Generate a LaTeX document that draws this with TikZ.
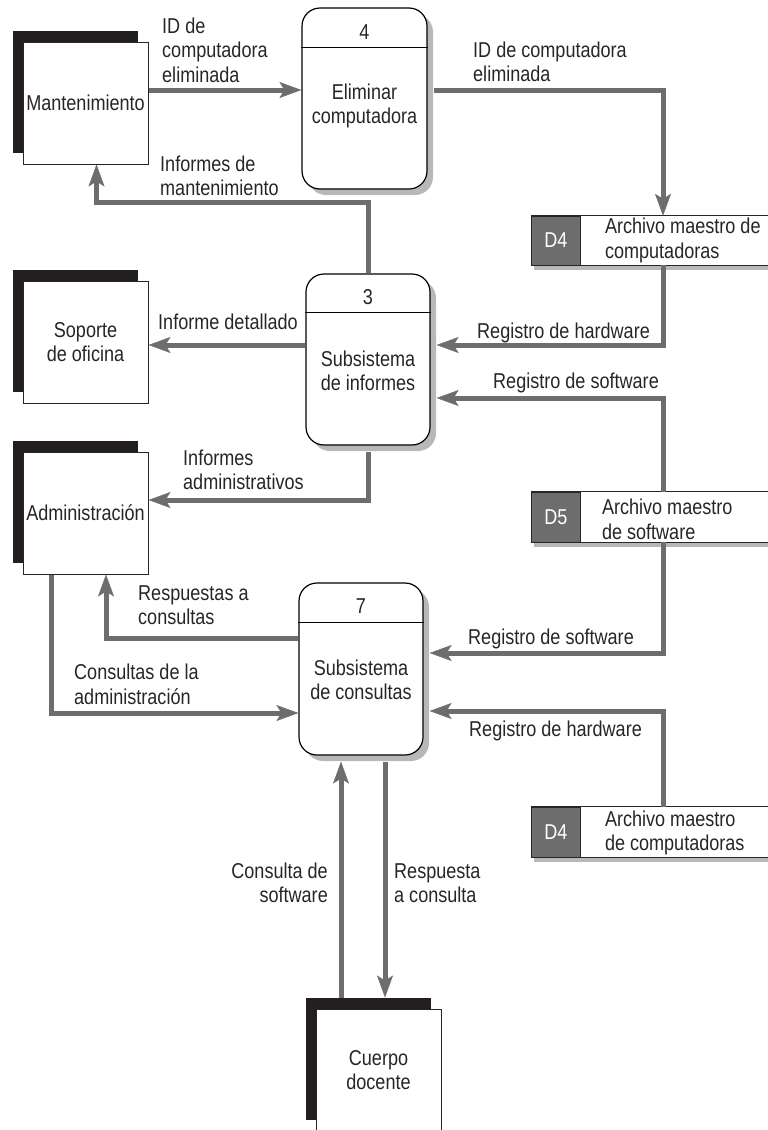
\documentclass[tikz,border=0pt]{standalone}
\usepackage{fontspec}
\setmainfont{Liberation Sans}[FakeStretch=0.84]
\usetikzlibrary{arrows.meta,shadows}
\definecolor{flowgray}{HTML}{6D6D6D}
\definecolor{shadowgray}{HTML}{B8B8B8}
\definecolor{extblack}{HTML}{231F20}
\begin{document}
\begin{tikzpicture}[x=1pt,y=-1pt,
  every node/.style={font=\fontsize{21.5}{24.5}\selectfont, inner sep=0pt, text=black!85},
  extbox/.style={draw=black!85, line width=1pt, fill=white, minimum width=125pt, minimum height=122pt, align=center,
    copy shadow={shadow xshift=-10pt, shadow yshift=11pt, fill=extblack, draw=none}},
  procbox/.style={draw=black, line width=1.2pt, fill=white, rounded corners=18pt, minimum width=124pt,
    copy shadow={shadow xshift=6pt, shadow yshift=-6pt, fill=shadowgray, draw=none}},
  divider/.style={draw=black, line width=1pt},
  store/.style={fill=white, minimum width=237pt, minimum height=49pt,
    copy shadow={shadow xshift=3pt, shadow yshift=-5pt, fill=shadowgray, draw=none}},
  storeline/.style={draw=black!85, line width=1pt},
  storeid/.style={fill=flowgray, draw=black!85, line width=1pt, minimum width=49pt, minimum height=49pt, text=white, anchor=west},
  storetxt/.style={anchor=west, align=left},
  lbl/.style={anchor=west, align=left},
  flow/.style={draw=flowgray, line width=5pt,
    -{Stealth[length=22pt,width=16pt,inset=5pt,line width=0.5pt]}},
]
\useasboundingbox (0,0) rectangle (768,1130);

% external entities
\node[extbox] (mant) at (85.5,103) {Mantenimiento};
\node[extbox] (sop) at (85.5,342) {Soporte\\de oficina};
\node[extbox] (adm) at (85.5,513) {Administración};
\node[extbox] (cuerpo) at (378.5,1070) {Cuerpo\\docente};

% processes
\node[procbox, minimum width=125pt, minimum height=181pt] (p4) at (364.5,98.5) {};
\draw[divider] ([yshift=-40pt]p4.north west) -- ([yshift=-40pt]p4.north east);
\node (p4n) at ([yshift=-25pt]p4.north) {4};
\node[align=center] (p4t) at (364.5,106) {Eliminar\\computadora};

\node[procbox, minimum height=171pt] (p3) at (368,359.5) {};
\draw[divider] ([yshift=-39pt]p3.north west) -- ([yshift=-39pt]p3.north east);
\node (p3n) at ([yshift=-24pt]p3.north) {3};
\node[align=center] (p3t) at (368,371) {Subsistema\\de informes};

\node[procbox, minimum height=172pt] (p7) at (361,669) {};
\draw[divider] ([yshift=-40pt]p7.north west) -- ([yshift=-40pt]p7.north east);
\node (p7n) at ([yshift=-24pt]p7.north) {7};
\node[align=center] (p7t) at (361,680) {Subsistema\\de consultas};

% data stores
\node[store] (d4a) at (649.5,240.5) {};
\draw[storeline] (d4a.north west) -- (d4a.north east) (d4a.south west) -- (d4a.south east);
\node[storeid] (d4aid) at (d4a.west) {D4};
\node[storetxt] (d4at) at ([xshift=74pt]d4a.west) {Archivo maestro de\\computadoras};

\node[store, minimum height=50pt] (d5) at (649.5,517) {};
\draw[storeline] (d5.north west) -- (d5.north east) (d5.south west) -- (d5.south east);
\node[storeid, minimum height=50pt] (d5id) at (d5.west) {D5};
\node[storetxt] (d5t) at ([xshift=71pt,yshift=-2.5pt]d5.west) {Archivo maestro\\de software};

\node[store, minimum height=50pt] (d4b) at (649.5,832) {};
\draw[storeline] (d4b.north west) -- (d4b.north east) (d4b.south west) -- (d4b.south east);
\node[storeid, minimum height=50pt] (d4bid) at (d4b.west) {D4};
\node[storetxt] (d4bt) at ([xshift=74pt,yshift=-1pt]d4b.west) {Archivo maestro\\de computadoras};

% helper coordinates
\coordinate (p4e) at ([xshift=6pt]p4.east);
\coordinate (p3e) at ([xshift=6pt]p3.east);
\coordinate (p7e) at ([xshift=6pt]p7.east);
\coordinate (p3s) at ([yshift=-6pt]p3.south);
\coordinate (p7s) at ([yshift=-6pt]p7.south);
\coordinate (m1) at ([yshift=13pt]mant.east);
\coordinate (m3) at ([xshift=11pt]mant.south);
\coordinate (s1) at ([yshift=-3pt]sop.east);
\coordinate (a1) at ([yshift=13pt]adm.east);
\coordinate (a2) at ([xshift=20.5pt]adm.south);
\coordinate (a3) at ([xshift=-34.5pt]adm.south);
\coordinate (d4ain) at ([xshift=13.5pt]d4a.north);
\coordinate (d4aout) at ([xshift=13.5pt]d4a.south);
\coordinate (d5top) at ([xshift=13.5pt]d5.north);
\coordinate (d5bot) at ([xshift=13.5pt]d5.south);
\coordinate (d4btop) at ([xshift=13.5pt]d4b.north);
\coordinate (c1) at ([xshift=-37.5pt,yshift=11pt]cuerpo.north);
\coordinate (c2) at ([xshift=6.5pt,yshift=11pt]cuerpo.north);

% flows
\draw[flow] (m1) -- (m1 -| p4.west);
\draw[flow] (p4e |- m1) -| (d4ain);
\draw[flow] (p3.north) -- ++(0,-71) -| (m3);
\draw[flow] (s1 -| p3.west) -- (s1);
\draw[flow] (d4aout) |- (p3e |- s1);
\draw[flow] (d5top) |- ([yshift=-38.5pt]p3e);
\draw[flow] (p3s) |- (a1);
\draw[flow] ([yshift=31pt]p7.west) -| (a2);
\draw[flow] (a3) |- ([yshift=-44pt]p7.west);
\draw[flow] (d5bot) |- ([yshift=16pt]p7e);
\draw[flow] (d4btop) |- ([yshift=-42pt]p7e);
\draw[flow] (c1) -- (c1 |- p7s);
\draw[flow] (c2 |- p7s) -- (c2);

% flow labels
\node[lbl] (l1) at (162,50) {ID de\\computadora\\eliminada};
\node[lbl] (l2) at (473,62) {ID de computadora\\eliminada};
\node[lbl] (l3) at (160,176) {Informes de\\mantenimiento};
\node[lbl] (l4) at (158,322) {Informe detallado};
\node[lbl] (l5) at (477,333) {Registro de hardware};
\node[lbl] (l6) at (493,383) {Registro de software};
\node[lbl] (l7) at (183,470) {Informes\\administrativos};
\node[lbl] (l8) at (138,605) {Respuestas a\\consultas};
\node[lbl] (l9) at (74,684.5) {Consultas de la\\administración};
\node[lbl] (l10) at (468,639) {Registro de software};
\node[lbl] (l11) at (469,731) {Registro de hardware};
\node[lbl, anchor=east, align=right] (l12) at (328,883) {Consulta de\\software};
\node[lbl] (l13) at (394,883) {Respuesta\\a consulta};
\end{tikzpicture}
\end{document}
